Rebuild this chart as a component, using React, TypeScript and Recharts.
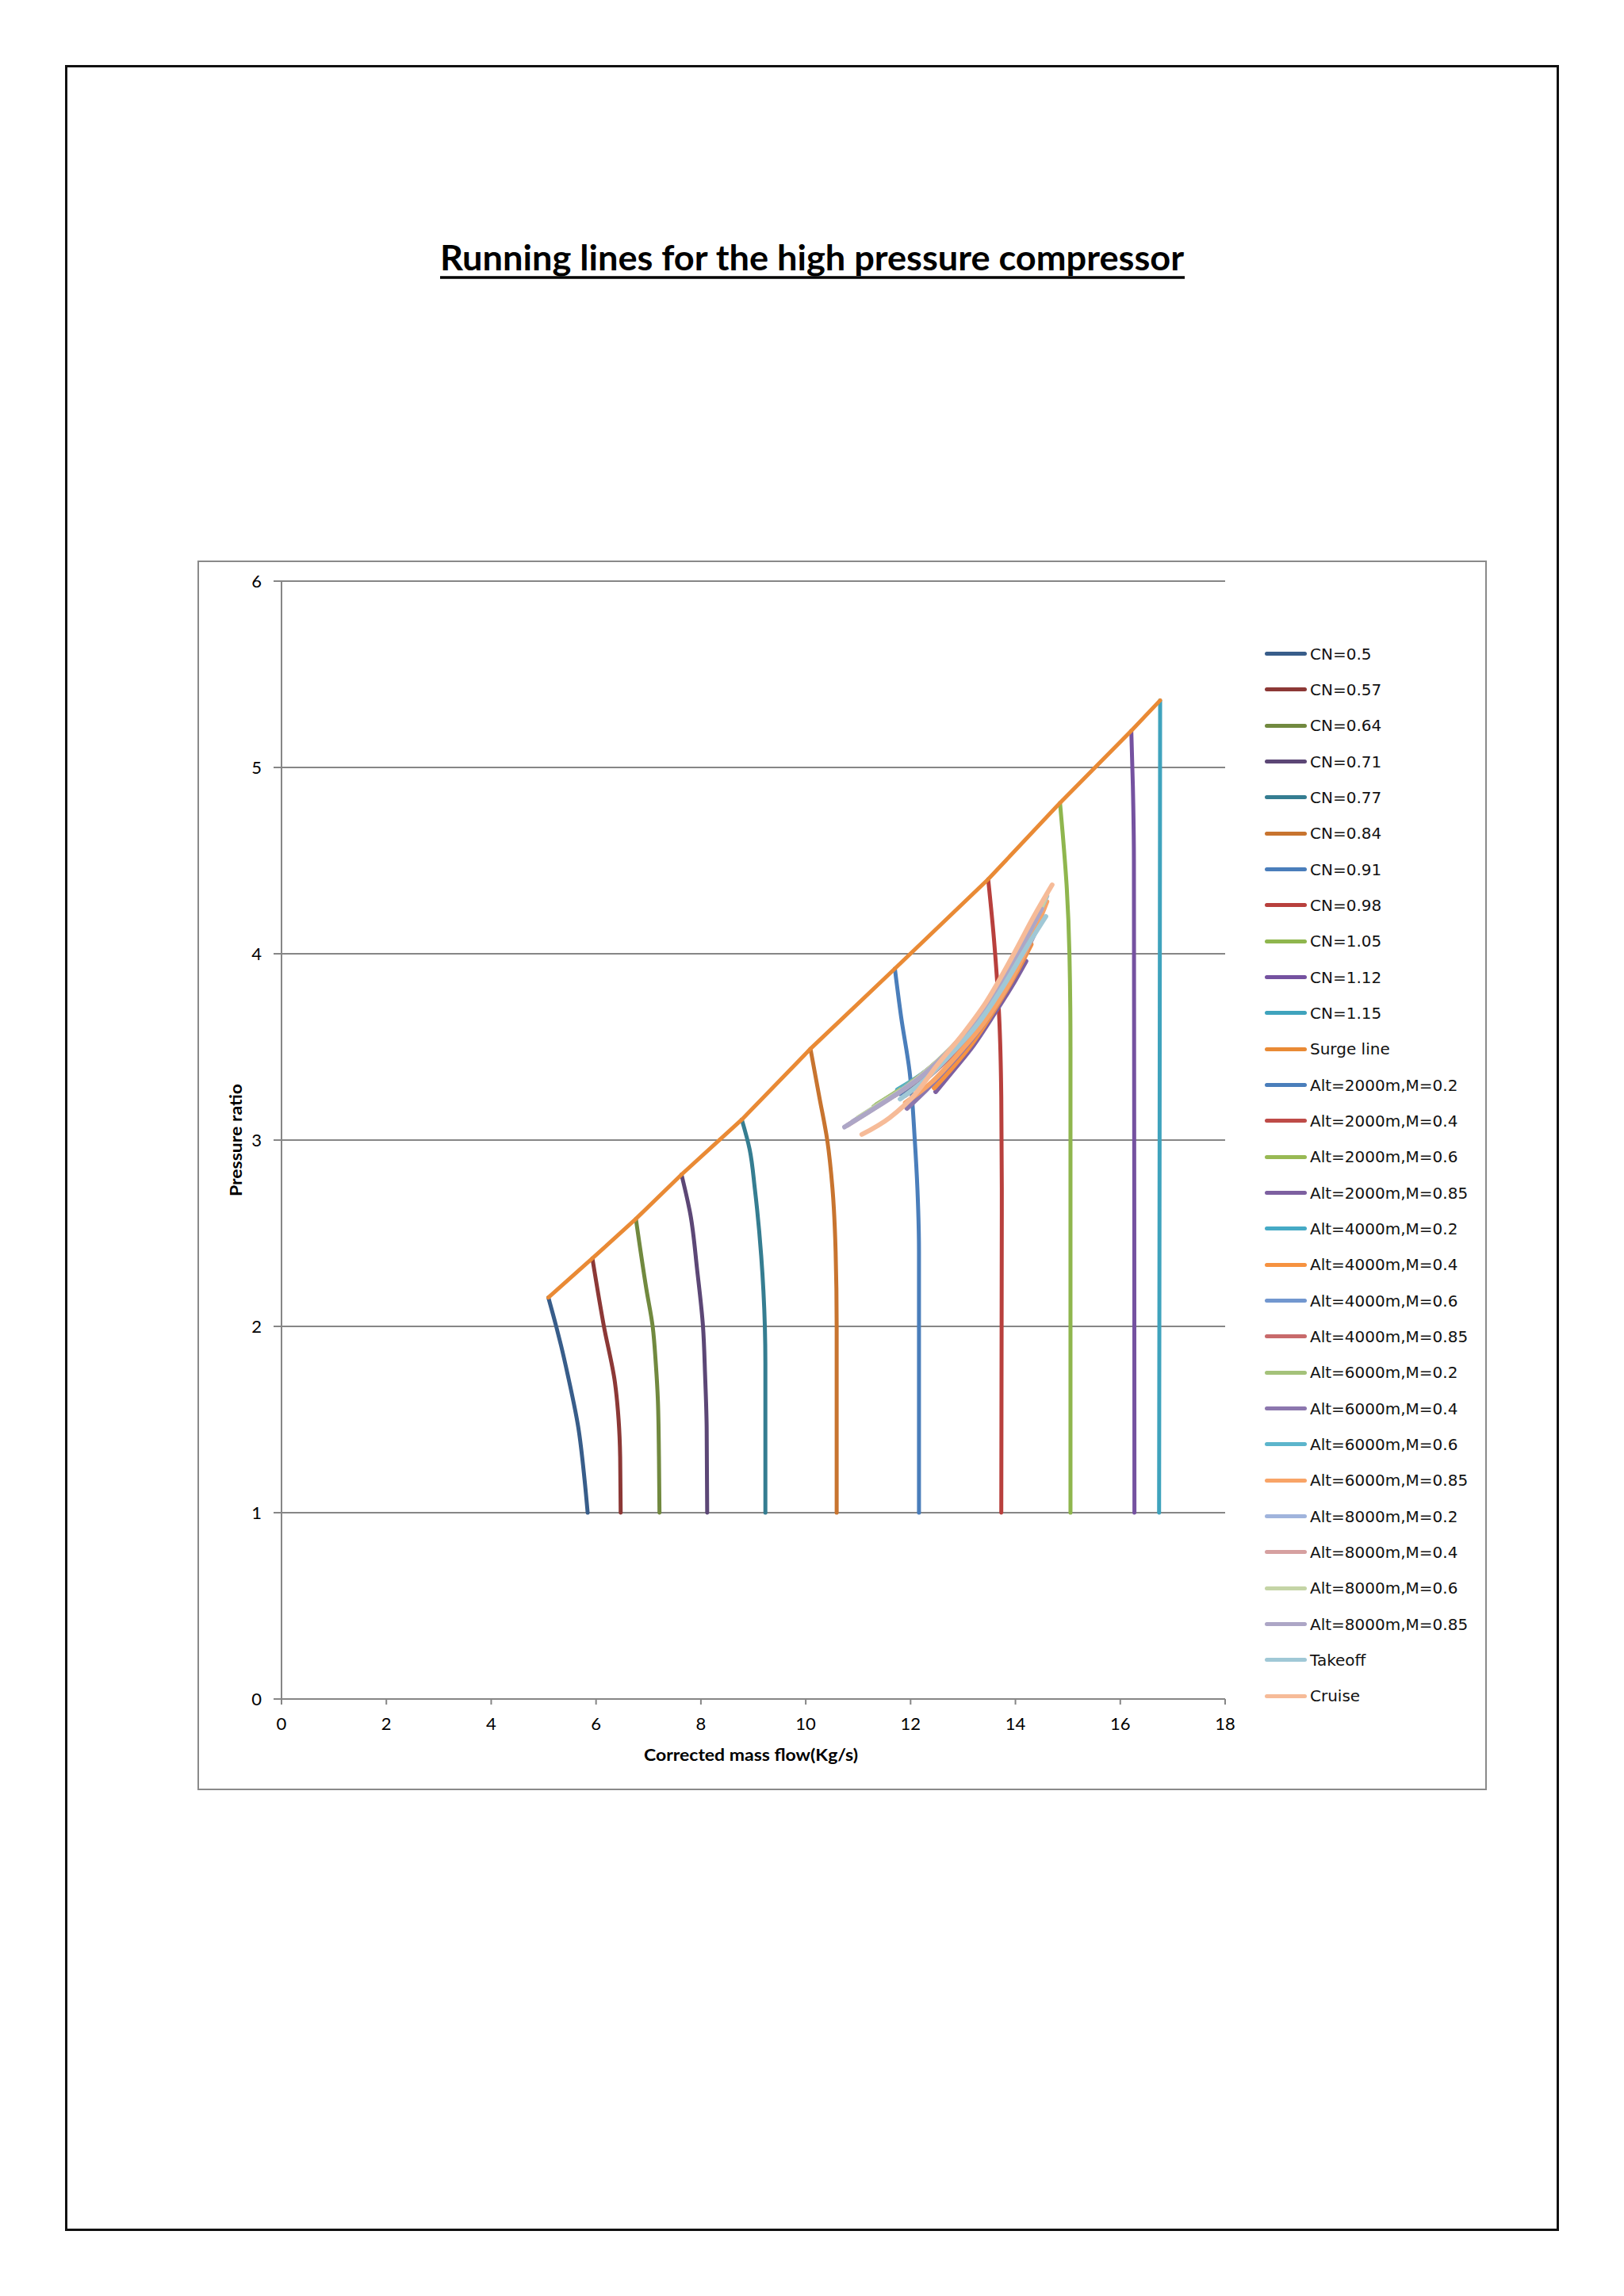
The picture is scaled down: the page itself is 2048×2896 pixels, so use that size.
import React from "react";
import { LineChart, Line, XAxis, YAxis, CartesianGrid, Label } from "recharts";

// axis ticks
const xTicks = [0, 2, 4, 6, 8, 10, 12, 14, 16, 18];
const yTicks = [0, 1, 2, 3, 4, 5, 6];

// constant speed lines, [mass flow, pressure ratio], bottom -> surge
const cn050 = [[5.84, 1.0], [5.78, 1.18], [5.66, 1.46], [5.46, 1.74], [5.33, 1.9], [5.24, 2.0], [5.09, 2.155]];
const cn057 = [[6.47, 1.0], [6.46, 1.3], [6.43, 1.5], [6.36, 1.7], [6.15, 2.0], [5.93, 2.365]];
const cn064 = [[7.21, 1.0], [7.2, 1.3], [7.18, 1.6], [7.14, 1.8], [7.08, 2.0], [6.96, 2.2], [6.76, 2.577]];
const cn071 = [[8.12, 1.0], [8.11, 1.46], [8.08, 1.74], [8.04, 2.0], [7.93, 2.3], [7.8, 2.6], [7.63, 2.815]];
const cn077 = [[9.23, 1.0], [9.23, 1.8], [9.22, 2.0], [9.15, 2.38], [9.03, 2.736], [8.93, 2.95], [8.78, 3.11]];
const cn084 = [[10.59, 1.0], [10.59, 2.0], [10.57, 2.4], [10.51, 2.74], [10.41, 3.0], [10.26, 3.23], [10.09, 3.49]];
const cn091 = [[12.16, 1.0], [12.16, 2.4], [12.13, 2.74], [12.08, 3.0], [11.98, 3.37], [11.82, 3.66], [11.7, 3.92]];
const cn098 = [[13.73, 1.0], [13.74, 2.74], [13.73, 3.23], [13.69, 3.66], [13.59, 4.08], [13.48, 4.4]];
const cn105 = [[15.05, 1.0], [15.05, 3.5], [15.03, 4.0], [14.98, 4.35], [14.9, 4.65], [14.85, 4.81]];
const cn112 = [[16.27, 1.0], [16.26, 4.5], [16.24, 4.9], [16.21, 5.197]];
const cn115 = [[16.74, 1.0], [16.75, 3.0], [16.76, 5.36]];
const surge = [[5.09, 2.155], [5.93, 2.365], [6.76, 2.577], [7.63, 2.815], [8.78, 3.11], [10.09, 3.49], [11.7, 3.92], [13.48, 4.4], [14.85, 4.81], [16.21, 5.197], [16.76, 5.36]];

// running lines
const a2000m02 = [[11.8, 3.25], [12.2, 3.33], [12.7, 3.46], [13.2, 3.61], [13.7, 3.81], [14.2, 4.06], [14.45, 4.2]];
const a2000m04 = [[11.7, 3.24], [12.2, 3.34], [12.7, 3.47], [13.2, 3.62], [13.7, 3.82], [14.2, 4.07], [14.5, 4.24]];
const a2000m06 = [[11.35, 3.19], [11.8, 3.27], [12.3, 3.37], [12.8, 3.5], [13.3, 3.66], [13.8, 3.87], [14.3, 4.13], [14.55, 4.27]];
const a2000m085 = [[12.48, 3.26], [12.8, 3.37], [13.2, 3.51], [13.6, 3.68], [14.0, 3.86], [14.2, 3.96]];
const a4000m02 = [[11.75, 3.27], [12.2, 3.35], [12.7, 3.47], [13.2, 3.62], [13.7, 3.81], [14.2, 4.05], [14.5, 4.21]];
const a4000m04 = [[12.45, 3.28], [12.8, 3.39], [13.2, 3.53], [13.6, 3.7], [14.0, 3.89], [14.3, 4.05]];
const a4000m06 = [[11.5, 3.21], [12.0, 3.3], [12.5, 3.41], [13.0, 3.55], [13.5, 3.72], [14.0, 3.95], [14.4, 4.18]];
const a4000m085 = [[11.9, 3.24], [12.3, 3.33], [12.8, 3.46], [13.3, 3.62], [13.8, 3.83], [14.3, 4.1], [14.5, 4.22]];
const a6000m02 = [[11.3, 3.18], [11.8, 3.27], [12.3, 3.37], [12.8, 3.5], [13.3, 3.66], [13.8, 3.86], [14.3, 4.12], [14.5, 4.24]];
const a6000m04 = [[11.93, 3.17], [12.3, 3.27], [12.8, 3.42], [13.3, 3.59], [13.8, 3.8], [14.3, 4.07], [14.45, 4.16]];
const a6000m06 = [[11.85, 3.28], [12.3, 3.36], [12.8, 3.49], [13.3, 3.64], [13.8, 3.84], [14.3, 4.1], [14.55, 4.25]];
const a6000m085 = [[11.9, 3.2], [12.4, 3.31], [12.9, 3.46], [13.4, 3.63], [13.9, 3.85], [14.4, 4.14], [14.6, 4.28]];
const a8000m02 = [[10.9, 3.1], [11.4, 3.19], [11.9, 3.28], [12.4, 3.39], [12.9, 3.53], [13.4, 3.7], [13.9, 3.93], [14.4, 4.19], [14.6, 4.31]];
const a8000m04 = [[10.8, 3.08], [11.3, 3.17], [11.8, 3.26], [12.3, 3.37], [12.8, 3.5], [13.3, 3.67], [13.8, 3.89], [14.3, 4.15], [14.55, 4.29]];
const a8000m06 = [[11.0, 3.12], [11.5, 3.21], [12.0, 3.3], [12.5, 3.42], [13.0, 3.56], [13.5, 3.74], [14.0, 3.98], [14.4, 4.19], [14.6, 4.32]];
const a8000m085 = [[10.74, 3.07], [11.2, 3.15], [11.7, 3.24], [12.2, 3.34], [12.7, 3.47], [13.2, 3.62], [13.7, 3.82], [14.2, 4.08], [14.5, 4.24]];
const takeoff = [[11.8, 3.22], [12.3, 3.33], [12.8, 3.47], [13.3, 3.63], [13.8, 3.84], [14.2, 4.03], [14.58, 4.2]];
const cruise = [[11.07, 3.03], [11.6, 3.12], [12.1, 3.25], [12.5, 3.4], [13.0, 3.57], [13.44, 3.74], [13.99, 4.01], [14.35, 4.2], [14.7, 4.37]];

const seriesNames = [
  "CN=0.5", "CN=0.57", "CN=0.64", "CN=0.71", "CN=0.77", "CN=0.84",
  "CN=0.91", "CN=0.98", "CN=1.05", "CN=1.12", "CN=1.15", "Surge line",
  "Alt=2000m,M=0.2", "Alt=2000m,M=0.4", "Alt=2000m,M=0.6", "Alt=2000m,M=0.85",
  "Alt=4000m,M=0.2", "Alt=4000m,M=0.4", "Alt=4000m,M=0.6", "Alt=4000m,M=0.85",
  "Alt=6000m,M=0.2", "Alt=6000m,M=0.4", "Alt=6000m,M=0.6", "Alt=6000m,M=0.85",
  "Alt=8000m,M=0.2", "Alt=8000m,M=0.4", "Alt=8000m,M=0.6", "Alt=8000m,M=0.85",
  "Takeoff", "Cruise",
];

const seriesPoints = [
  cn050, cn057, cn064, cn071, cn077, cn084, cn091, cn098, cn105, cn112, cn115, surge,
  a2000m02, a2000m04, a2000m06, a2000m085, a4000m02, a4000m04, a4000m06, a4000m085,
  a6000m02, a6000m04, a6000m06, a6000m085, a8000m02, a8000m04, a8000m06, a8000m085,
  takeoff, cruise,
];

const seriesColors = [
  "#385d8a", "#8c3836", "#71893f", "#5c4776", "#357d91", "#c8742f",
  "#4a7ebb", "#b8403d", "#8fb64e", "#7552a0", "#3fa3bd", "#e98a35",
  "#4a7ebb", "#be4b48", "#98b954", "#7d60a0", "#46aac5", "#f69240",
  "#7297cf", "#c86a6b", "#a4c27a", "#8c77ae", "#5cb5cc", "#f8a467",
  "#a0b4dc", "#d6a0a0", "#c4d4a6", "#ada6c6", "#a0c8d6", "#f6bb98",
];

const curveFor = (i: number) => (i < 11 ? "monotoneY" : i === 11 ? "linear" : "monotoneX");

const toRows = (pts: number[][]) => pts.map(([x, y]) => ({ x, y }));

const GRID = "#868686";

function Legend30() {
  return (
    <div style={{ position: "absolute", left: 1595, top: 824 - 22, fontFamily: "'DejaVu Sans', sans-serif", fontSize: 20, color: "#111" }}>
      {seriesNames.map((name, i) => (
        <div key={name} style={{ display: "flex", alignItems: "center", height: 45.33 }}>
          <div style={{ width: 53, height: 5, borderRadius: 2.5, background: seriesColors[i], marginRight: 4 }} />
          <span style={{ lineHeight: "20px" }}>{name}</span>
        </div>
      ))}
    </div>
  );
}

export default function App() {
  return (
    <div style={{ position: "absolute", left: 0, top: 0, width: 2048, height: 2896, background: "#fff" }}>
      {/* page frame */}
      <div style={{ position: "absolute", left: 82, top: 82, width: 1884, height: 2732, border: "3px solid #111", boxSizing: "border-box" }} />

      {/* title */}
      <svg width={2048} height={400} style={{ position: "absolute", left: 0, top: 0 }}>
        <text x={1024} y={341} textAnchor="middle" fontFamily="Lato, sans-serif" fontWeight={700} fontSize={44} textLength={938} lengthAdjust="spacingAndGlyphs" fill="#000">
          Running lines for the high pressure compressor
        </text>
        <line x1={555} x2={1494} y1={350} y2={350} stroke="#000" strokeWidth={3.5} />
      </svg>

      {/* chart frame */}
      <div style={{ position: "absolute", left: 249, top: 707, width: 1626, height: 1551, border: "2px solid #8a8a8a", boxSizing: "border-box" }} />

      <div style={{ position: "absolute", left: 249, top: 707 }}>
        <LineChart width={1626} height={1551} margin={{ top: 26, right: 330, bottom: 0, left: 0 }}>
          <CartesianGrid horizontal vertical={false} stroke={GRID} strokeWidth={2} />
          <XAxis
            type="number"
            dataKey="x"
            domain={[0, 18]}
            ticks={xTicks}
            allowDataOverflow
            height={115}
            axisLine={{ stroke: GRID, strokeWidth: 2 }}
            tickLine={{ stroke: GRID, strokeWidth: 2 }}
            tickSize={7}
            tickMargin={16}
            tick={{ fill: "#000", fontSize: 22, fontFamily: "Lato, sans-serif" }}
          >
            <Label
              content={() => (
                <text x={698} y={1505} textAnchor="middle" dominantBaseline="central" fontFamily="Lato, sans-serif" fontWeight={700} fontSize={21} textLength={270} lengthAdjust="spacingAndGlyphs" fill="#000">
                  Corrected mass flow(Kg/s)
                </text>
              )}
            />
          </XAxis>
          <YAxis
            type="number"
            dataKey="y"
            domain={[0, 6]}
            ticks={yTicks}
            allowDataOverflow
            width={106}
            axisLine={{ stroke: GRID, strokeWidth: 2 }}
            tickLine={{ stroke: GRID, strokeWidth: 2 }}
            tickSize={10}
            tickMargin={15}
            tick={{ fill: "#000", fontSize: 22, fontFamily: "Lato, sans-serif" }}
          >
            <Label
              content={() => (
                <text x={48} y={731} transform="rotate(-90 48 731)" textAnchor="middle" dominantBaseline="central" fontFamily="Lato, sans-serif" fontWeight={700} fontSize={20} textLength={142} lengthAdjust="spacingAndGlyphs" fill="#000">
                  Pressure ratio
                </text>
              )}
            />
          </YAxis>
          {seriesPoints.map((pts, i) => (
            <Line
              key={seriesNames[i]}
              name={seriesNames[i]}
              data={toRows(pts)}
              dataKey="y"
              type={curveFor(i) as any}
              stroke={seriesColors[i]}
              strokeWidth={i < 12 ? 5 : 6}
              strokeLinecap="round"
              dot={false}
              activeDot={false}
              isAnimationActive={false}
            />
          ))}
        </LineChart>
      </div>

      <Legend30 />
    </div>
  );
}
